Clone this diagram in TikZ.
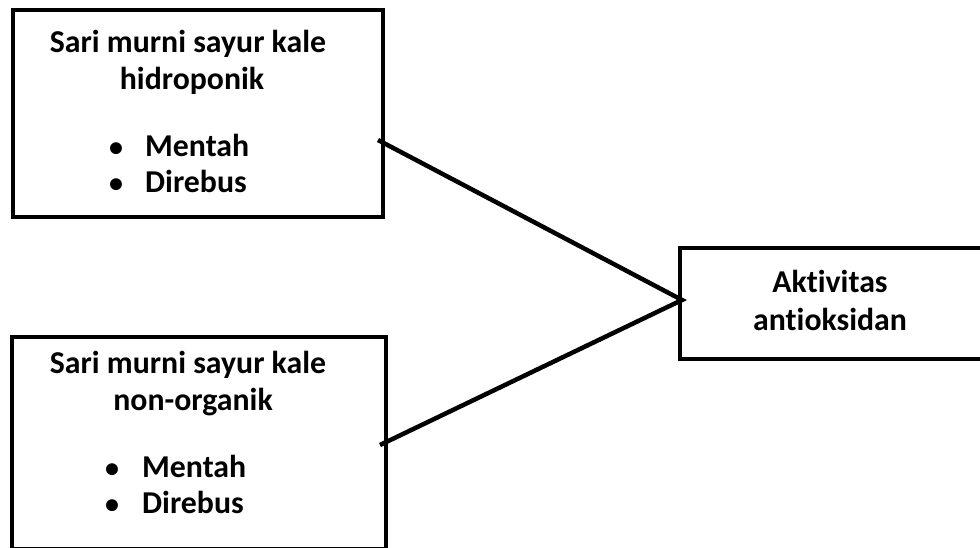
\documentclass[tikz,border=0pt]{standalone}
\usepackage{fontspec}
\setmainfont[Ligatures=NoCommon]{Carlito}
\begin{document}
\begin{tikzpicture}[x=1pt,y=-1pt,
  boxline/.style={draw=black,line width=4.5pt},
  conn/.style={draw=black,line width=4.5pt},
  txt/.style={anchor=base,inner sep=0pt,font=\fontsize{31.8}{38}\selectfont\bfseries},
  btxt/.style={anchor=base west,inner sep=0pt,font=\fontsize{31.8}{38}\selectfont\bfseries},
  bul/.style={anchor=base,inner sep=0pt,font=\fontsize{28}{34}\selectfont\bfseries}]
\useasboundingbox (0,0) rectangle (980,548);
\fill[white] (0,0) rectangle (980,548);
% boxes
\node[boxline,rectangle,inner sep=0pt,minimum width=370pt,minimum height=207pt] (boxA) at (198,113.5) {};
\node[boxline,rectangle,inner sep=0pt,minimum width=374pt,minimum height=212pt] (boxB) at (199,443) {};
\node[boxline,rectangle,inner sep=0pt,minimum width=305pt,minimum height=111pt] (boxC) at (832.5,303.5) {};
% texts box A
\node[txt] (a1) at (188,53) {Sari murni sayur kale};
\node[txt] (a2) at (192,90) {hidroponik};
\node[bul] (a3b) at (116,157) {•};
\node[btxt] (a3) at (145,157) {Mentah};
\node[bul] (a4b) at (116,193) {•};
\node[btxt] (a4) at (145,193) {Direbus};
% texts box B
\node[txt] (b1) at (188,373) {Sari murni sayur kale};
\node[txt] (b2) at (193,410) {non-organik};
\node[bul] (b3b) at (112,477) {•};
\node[btxt] (b3) at (142,477) {Mentah};
\node[bul] (b4b) at (112,513) {•};
\node[btxt] (b4) at (142,513) {Direbus};
% texts box C
\node[txt] (c1) at (830,292) {Aktivitas};
\node[txt] (c2) at (830,330) {antioksidan};
% connectors
\coordinate (pA) at (378,140);
\coordinate (pB) at (380,445);
\coordinate (pC) at (682,300);
\draw[conn] (pA) -- (pC) -- (pB);
\end{tikzpicture}
\end{document}
